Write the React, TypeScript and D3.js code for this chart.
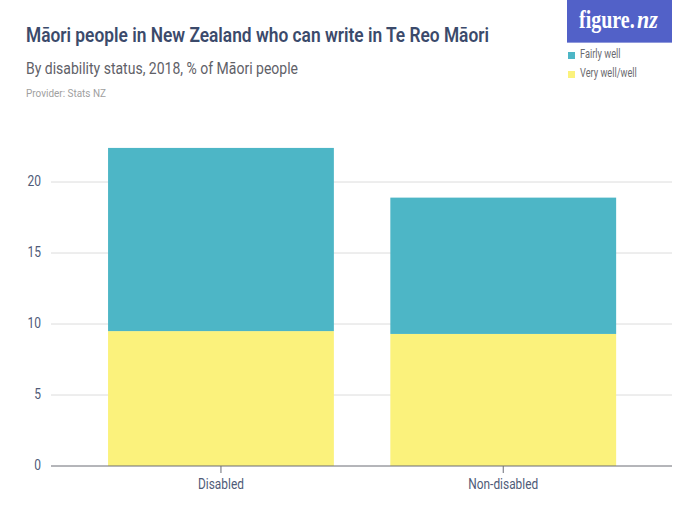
import React from 'react';
import * as d3 from 'd3';

const categories = ['Disabled', 'Non-disabled'];
const veryWell = [9.5, 9.3];
const fairlyWell = [12.9, 9.6];
const yTicks = [0, 5, 10, 15, 20];
const legendLabels = ['Fairly well', 'Very well/well'];
const legendColors = ['#4db6c6', '#fbf27c'];

const width = 700;
const height = 525;
const sans = 'Roboto, sans-serif';
const serif = '"Liberation Serif", serif';

// the original face is narrower than anything installed, so squeeze the text sideways
const Narrow: React.FC<any> = ({ x, y, squeeze, children, ...rest }) => (
  <text transform={`translate(${x},${y}) scale(${squeeze},1)`} fontFamily={sans} {...rest}>
    {children}
  </text>
);

const App: React.FC = () => {
  const x = d3.scaleBand<string>().domain(categories).range([51.6, 672.6]).paddingInner(0.2).paddingOuter(0.2);
  const y = d3.scaleLinear().domain([0, 20]).range([466, 182]);

  const rows = categories.map((c, i) => ({ category: c, veryWell: veryWell[i], fairlyWell: fairlyWell[i] }));
  const stacked = d3.stack<any>().keys(['veryWell', 'fairlyWell'])(rows);
  const fills = [legendColors[1], legendColors[0]];

  return (
    <svg
      width={width}
      height={height}
      style={{ position: 'absolute', left: 0, top: 0, background: '#fff' }}
    >
      <text x={26} y={42} fontFamily={sans} fontSize={20} fontWeight={600} fill="#3b4a6b" textLength={463} lengthAdjust="spacingAndGlyphs">
        Māori people in New Zealand who can write in Te Reo Māori
      </text>
      <text x={26} y={74} fontFamily={sans} fontSize={17} fill="#5f6168" textLength={272} lengthAdjust="spacingAndGlyphs">
        By disability status, 2018, % of Māori people
      </text>
      <text x={26} y={97} fontFamily={sans} fontSize={11} fill="#a0a0a0" textLength={80} lengthAdjust="spacingAndGlyphs">
        Provider: Stats NZ
      </text>

      <rect x={567} y={0} width={105} height={42} fill="#5261c8" />
      <rect x={567} y={42} width={105} height={1} fill="#8f99dc" />
      <Narrow x={579} y={28} squeeze={0.8} fontFamily={serif} fontSize={25} fontWeight={700} fill="#fff">
        figure.
      </Narrow>
      <Narrow x={637} y={28} squeeze={0.88} fontFamily={serif} fontSize={25} fontStyle="italic" fontWeight={700} fill="#fff">
        nz
      </Narrow>

      {legendLabels.map((label, i) => (
        <g key={label}>
          <rect x={568} y={52 + i * 19} width={7} height={7} fill={legendColors[i]} />
          <Narrow x={580} y={58 + i * 19} squeeze={0.77} fontSize={12} fill="#6b6b70">
            {label}
          </Narrow>
        </g>
      ))}

      {yTicks.filter((t) => t > 0).map((t) => (
        <line key={t} x1={51} x2={672} y1={y(t)} y2={y(t)} stroke="#dcdcdc" strokeWidth={1} />
      ))}
      {yTicks.map((t) => (
        <Narrow key={t} x={41} y={y(t) + 4} squeeze={0.8} textAnchor="end" fontSize={15} fill="#4f5b78">
          {t}
        </Narrow>
      ))}

      {stacked.map((layer, k) =>
        layer.map((d, i) => (
          <rect
            key={`${k}-${i}`}
            x={x(categories[i])}
            y={y(d[1])}
            width={x.bandwidth()}
            height={y(d[0]) - y(d[1])}
            fill={fills[k]}
          />
        ))
      )}

      <line x1={51} x2={672} y1={y(0)} y2={y(0)} stroke="#6a6d75" strokeWidth={1} />
      {categories.map((c) => {
        const cx = (x(c) as number) + x.bandwidth() / 2;
        return (
          <g key={c}>
            <line x1={cx} x2={cx} y1={y(0)} y2={y(0) + 7} stroke="#6a6d75" />
            <Narrow x={cx} y={489} squeeze={0.85} textAnchor="middle" fontSize={14} fill="#4f5b78">
              {c}
            </Narrow>
          </g>
        );
      })}
    </svg>
  );
};

export default App;
